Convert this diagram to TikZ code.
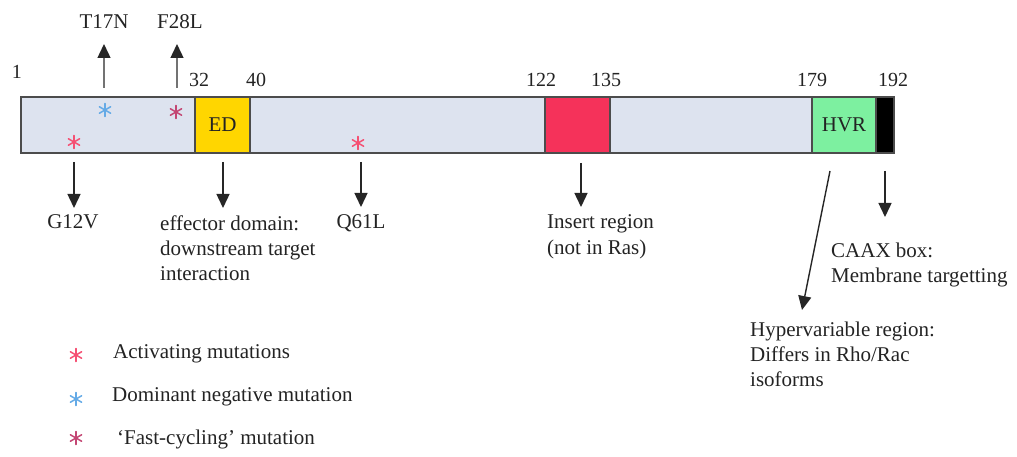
\documentclass[tikz,border=0pt]{standalone}
\usepackage{fontspec}
\setmainfont{Liberation Serif}
\usetikzlibrary{arrows.meta}
\definecolor{barfill}{RGB}{221,227,239}
\definecolor{edyellow}{RGB}{255,214,0}
\definecolor{insred}{RGB}{245,50,90}
\definecolor{hvrgreen}{RGB}{125,240,160}
\definecolor{astpink}{RGB}{245,80,115}
\definecolor{astblue}{RGB}{100,170,230}
\definecolor{astpurple}{RGB}{195,70,115}
\definecolor{txt}{RGB}{35,35,35}
\begin{document}
\begin{tikzpicture}[x=1pt,y=-1pt,
  font=\fontsize{21}{25}\selectfont, text=txt,
  seg/.style={draw=black!70, line width=1.2pt, inner sep=0pt, outer sep=0pt, minimum height=56},
  lbl/.style={inner sep=0pt, anchor=base west, align=left},
  num/.style={inner sep=0pt, anchor=base, font=\fontsize{20}{24}\selectfont},
  dnarrow/.style={line width=1.4pt, draw=black!85, -{Triangle[width=13pt,length=14pt]}},
  uparrow/.style={line width=1.4pt, draw=black!55, -{Triangle[width=13pt,length=14pt,fill=black!85,color=black!85]}},
  ast/.pic={\foreach \a in {90,30,150} \draw[line width=1.5pt, line cap=round] (\a:6.5) -- (\a+180:6.5);}
]
\useasboundingbox (0,0) rectangle (1017,457);
% bar and segments
\node[seg, fill=barfill, minimum width=873] (bar) at (457.5,125) {};
\node[seg, fill=edyellow, minimum width=55] (ed) at (222.5,125) {ED};
\node[seg, fill=insred, minimum width=65] (ins) at (577.5,125) {};
\node[seg, fill=hvrgreen, minimum width=64] (hvr) at (844,125) {HVR};
\node[seg, fill=black, minimum width=18] (caax) at (885,125) {};
% numbers
\node[num] (n1) at (17,79) {1};
\node[num] (n32) at (199,87) {32};
\node[num] (n40) at (256,87) {40};
\node[num] (n122) at (541,87) {122};
\node[num] (n135) at (606,87) {135};
\node[num] (n179) at (812,87) {179};
\node[num] (n192) at (893,87) {192};
% asterisks on bar
\pic[astpink] at (74,142) {ast};
\pic[astblue] at (105,110) {ast};
\pic[astpurple] at (176,112) {ast};
\pic[astpink] at (358,143) {ast};
% up arrows
\node[lbl, anchor=base] (t17n) at (104,29) {T17N};
\node[lbl, anchor=base] (f28l) at (180,29) {F28L};
\coordinate (t17s) at (104,88); \coordinate (t17e) at (104,44);
\coordinate (f28s) at (177,88); \coordinate (f28e) at (177,44);
\draw[uparrow] (t17s) -- (t17e);
\draw[uparrow] (f28s) -- (f28e);
% down labels (multi-line nodes: base = last line)
\node[lbl, anchor=base] (g12v) at (73,229) {G12V};
\node[lbl] (edl) at (160,280) {effector domain:\\downstream target\\interaction};
\node[lbl, anchor=base] (q61l) at (361,229) {Q61L};
\node[lbl] (insl) at (547,254) {Insert region\\(not in Ras)};
\node[lbl] (caaxl) at (831,282) {CAAX box:\\Membrane targetting};
\node[lbl] (hvrl) at (750,386) {Hypervariable region:\\Differs in Rho/Rac\\isoforms};
% down arrows
\coordinate (g12s) at (74,162); \coordinate (g12e) at (74,208);
\coordinate (eds) at (223,162); \coordinate (ede) at (223,208);
\coordinate (q61s) at (361,162); \coordinate (q61e) at (361,207);
\coordinate (inss) at (581,163); \coordinate (inse) at (581,207);
\coordinate (hvrs) at (830,171); \coordinate (hvre) at (802,310);
\coordinate (caaxs) at (885,171); \coordinate (caaxe) at (885,217);
\draw[dnarrow] (g12s) -- (g12e);
\draw[dnarrow] (eds) -- (ede);
\draw[dnarrow] (q61s) -- (q61e);
\draw[dnarrow] (inss) -- (inse);
\draw[dnarrow] (hvrs) -- (hvre);
\draw[dnarrow] (caaxs) -- (caaxe);
% legend
\pic[astpink] at (76,355) {ast};
\pic[astblue] at (76,399) {ast};
\pic[astpurple] at (76,438) {ast};
\node[lbl] (lg1) at (113,358) {Activating mutations};
\node[lbl] (lg2) at (112,401) {Dominant negative mutation};
\node[lbl] (lg3) at (117,444) {‘Fast-cycling’ mutation};
\end{tikzpicture}
\end{document}
